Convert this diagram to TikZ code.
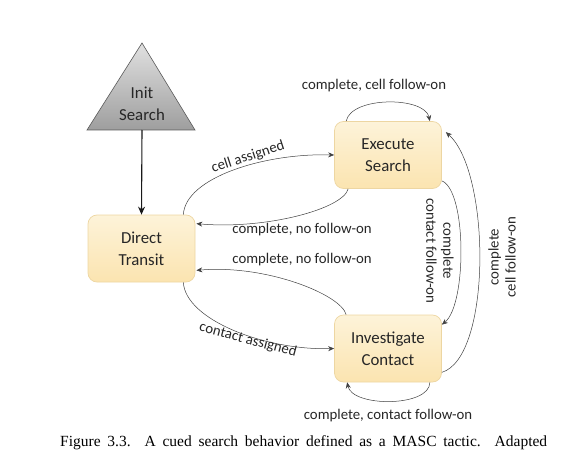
\documentclass[tikz,border=0pt]{standalone}
\usepackage{fontspec}
\setmainfont{Carlito}
\newfontfamily\capfont{Liberation Serif}
\usetikzlibrary{arrows.meta,calc,shadings}
\definecolor{boxtop}{HTML}{FDF3D9}
\definecolor{boxbot}{HTML}{FBE4B0}
\definecolor{boxline}{HTML}{EDD6A2}
\begin{document}
\begin{tikzpicture}[x=1pt,y=-1pt,
  state/.style={draw=boxline, line width=0.7pt, rounded corners=9pt,
    top color=boxtop, bottom color=boxbot,
    minimum width=107pt, minimum height=67pt, align=center,
    font=\fontsize{16.8}{22}\selectfont, text=black!85},
  edge/.style={draw=black!75, line width=0.5pt, -{Stealth[length=6pt,width=5pt]}},
  lbl/.style={font=\fontsize{14.8}{17}\selectfont, text=black!85, align=center, inner sep=0pt}]
\useasboundingbox (0,0) rectangle (561,457);
% init triangle
\draw[draw=black!65, line width=0.6pt, top color=black!12, bottom color=black!38]
  (142,43) -- (195,130) -- (87,130) -- cycle;
\node[align=center, font=\fontsize{16.8}{22}\selectfont, text=black!85] (init) at (142,104) {Init\\Search};
\coordinate (initb) at (142,130);
% states
\node[state] (dt) at (141.5,248.5) {Direct\\Transit};
\node[state] (es) at (388,155) {Execute\\Search};
\node[state] (ic) at (388,348.5) {Investigate\\Contact};
% init arrow
\draw[line width=1.1pt, black!90, -{Stealth[length=8pt,width=7pt]}] (initb) -- (dt.north);
% edges
\draw[edge] ($(dt.north east)+(-12,0)$) .. controls +(2,-37) and +(-70,-2) .. (es.west);
\draw[edge] ($(es.south west)+(14,0)$) .. controls +(-5,20) and +(70,6) .. ($(dt.north east)+(1,9)$);
\draw[edge] ($(ic.north west)+(12,0)$) .. controls +(-5,-20) and +(70,-6) .. ($(dt.south east)+(1,-12)$);
\draw[edge] ($(dt.south east)+(-12,0)$) .. controls +(2,37) and +(-70,2) .. (ic.west);
\draw[edge] ($(es.north west)+(12,0)$) .. controls +(5,-25) and +(-5,-25) .. ($(es.north east)+(-12,0)$);
\draw[edge] ($(ic.south east)+(-12,0)$) .. controls +(0,25) and +(5,25) .. ($(ic.south west)+(13,0)$);
\draw[edge] ($(es.south east)+(0,-8)$) .. controls +(25,10) and +(25,-20) .. ($(ic.north east)+(0,10)$);
\draw[edge] ($(ic.south east)+(0,-10)$) .. controls +(50,-15) and +(45,40) .. ($(es.north east)+(4,11)$);
% labels
\node[lbl, rotate=18] (l1) at (248,157) {cell assigned};
\node[lbl] (l2) at (302,230) {complete, no follow-on};
\node[lbl] (l3) at (302,260) {complete, no follow-on};
\node[lbl, rotate=-15] (l4) at (248,340) {contact assigned};
\node[lbl] (l5) at (374,86) {complete, cell follow-on};
\node[lbl] (l6) at (388,416) {complete, contact follow-on};
\node[lbl, rotate=-90] (l7) at (440,251) {complete\\contact follow-on};
\node[lbl, rotate=90] (l8) at (502,257) {complete\\cell follow-on};
% caption
\node[anchor=base west, inner sep=0pt, font=\capfont\fontsize{15.5}{18}\selectfont] (cap) at (60,446)
  {\makebox[487pt][s]{Figure 3.3. A cued search behavior defined as a MASC tactic. Adapted}};
\end{tikzpicture}
\end{document}
